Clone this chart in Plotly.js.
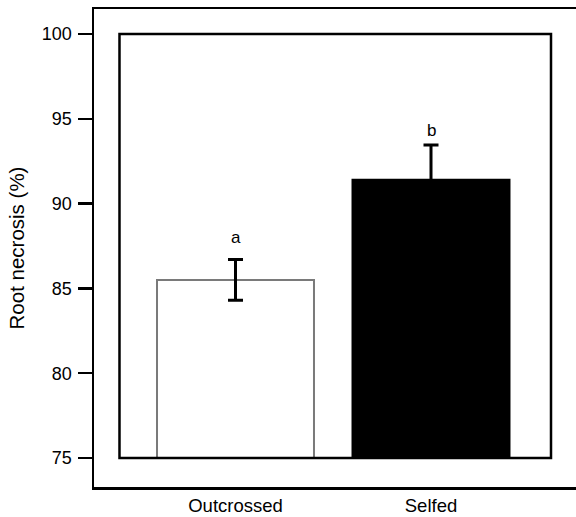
<!DOCTYPE html>
<html>
<head>
<meta charset="utf-8">
<script src="https://cdn.plot.ly/plotly-3.0.1.min.js"></script>
<style>
  html, body { margin: 0; padding: 0; background: #fff; }
  #chart { width: 576px; height: 517px; }
</style>
</head>
<body>
<div id="chart"></div>
<script>
// ---- data ----
const categories = ["Outcrossed", "Selfed"];
const necrosis = [85.5, 91.4];      // mean root necrosis (%)
const stdErr = [1.2, 2.05];         // error bar half-lengths
const letters = ["a", "b"];         // significance letters
const letterY = [88.0, 94.3];       // y positions for the letters
const yTicks = [75, 80, 85, 90, 95, 100];

// ---- styles / layout constants ----
const baseValue = 75;
const xPos = categories.map((c, i) => i);
const fillColors = ["#ffffff", "#000000"];
const lineColors = ["#7a7a7a", "#000000"];
const font = "Liberation Sans, Arial, Helvetica, sans-serif";

const trace = {
  type: "bar",
  x: xPos,
  y: necrosis.map(v => v - baseValue),
  base: baseValue,
  width: 0.803,
  marker: { color: fillColors, line: { color: lineColors, width: 2 } },
  error_y: { type: "data", array: stdErr, visible: true, color: "#000", thickness: 3, width: 7.5 },
  hoverinfo: "skip"
};

const layout = {
  width: 576, height: 517,
  margin: { l: 94, r: 0, t: 9, b: 30 },
  paper_bgcolor: "#fff", plot_bgcolor: "#fff",
  showlegend: false,
  font: { family: font, size: 18, color: "#000" },
  xaxis: {
    range: [-0.7238, 1.7417],
    tickvals: xPos, ticktext: categories,
    showgrid: false, zeroline: false,
    showline: true, linecolor: "#000", linewidth: 2.5, mirror: true,
    ticks: "", tickfont: { size: 18.5 }
  },
  yaxis: {
    range: [73.29, 101.474],
    tickvals: yTicks, ticktext: yTicks.map(String),
    showgrid: false, zeroline: false,
    showline: true, linecolor: "#000", linewidth: 2.5,
    ticks: "outside", ticklen: 14, tickwidth: 2.5, tickcolor: "#000",
    ticklabelstandoff: 2,
    tickfont: { size: 18 },
    title: { text: "Root necrosis (%)", font: { size: 20.5 }, standoff: 12 }
  },
  shapes: [{
    type: "rect", xref: "x", yref: "y",
    x0: -0.5934, x1: 1.6138, y0: 75, y1: 100,
    line: { color: "#000", width: 2.5 }, fillcolor: "rgba(0,0,0,0)", layer: "above"
  }],
  annotations: letters.map((t, i) => ({
    x: xPos[i], y: letterY[i], text: t, showarrow: false,
    xref: "x", yref: "y", yanchor: "middle",
    font: { size: 17, family: font, color: "#000" }
  }))
};

Plotly.newPlot("chart", [trace], layout, { displayModeBar: false, staticPlot: true });
</script>
</body>
</html>
